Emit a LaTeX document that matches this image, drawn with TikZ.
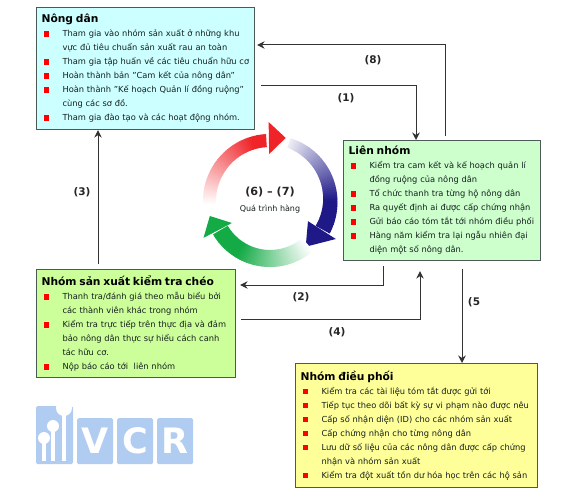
\documentclass[tikz,border=0pt]{standalone}
\usepackage{fontspec}
\setmainfont{DejaVu Sans}
\usepackage{xcolor}
\usepackage{tikz}
\usetikzlibrary{positioning,arrows.meta,calc}
\definecolor{cian}{RGB}{204,255,255}
\definecolor{menta}{RGB}{204,255,204}
\definecolor{lima}{RGB}{204,255,153}
\definecolor{vang}{RGB}{255,255,153}
\definecolor{borde}{RGB}{75,90,85}
\definecolor{texto}{RGB}{20,30,30}
\definecolor{logoazul}{RGB}{176,204,240}
\definecolor{rojo}{RGB}{240,35,40}
\definecolor{azul}{RGB}{30,25,135}
\definecolor{verde}{RGB}{20,170,70}
\newcommand{\muc}[1]{\hangindent=21pt\hangafter=1\noindent
  \makebox[21pt][l]{\hspace{2pt}\textcolor{red}{\rule{5.5pt}{5.5pt}}}#1\par}
\newcommand{\tieude}[1]{{\fontsize{10.7}{16}\selectfont\bfseries\color{black}#1\par}}

\begin{document}
\begin{tikzpicture}[x=1pt,y=-1pt,
  caja/.style={draw=borde, line width=1.1pt, anchor=north west, text=texto,
    font=\fontsize{8.3}{14}\selectfont, align=left, inner xsep=5pt,
    inner ysep=4.5pt},
  rel/.style={-{Stealth[length=7.5pt,width=7.5pt]}, draw=black!80, line width=1pt},
  etiq/.style={font=\fontsize{10.5}{12}\selectfont\bfseries, text=black!85},
  logo/.style={fill=logoazul, rounded corners=1.5pt, text=white,
    font=\fontsize{35}{35}\selectfont\bfseries, inner sep=0pt,
    text height=25pt, text depth=0pt,
    minimum width=36pt, minimum height=46pt}
]
\useasboundingbox (0,0) rectangle (586,500);
% Nong dan
\node[caja, fill=cian, text width=208pt, minimum height=122pt] (nong) at (36,7)
{\tieude{Nông dân}
\muc{Tham gia vào nhóm sản xuất ở những khu\newline vực đủ tiêu chuẩn sản xuất rau an toàn}
\muc{Tham gia tập huấn về các tiêu chuẩn hữu cơ}
\muc{Hoàn thành bản "Cam kết của nông dân"}
\muc{Hoàn thành "Kế hoạch Quản lí đồng ruộng"\newline cùng các sơ đồ.}
\muc{Tham gia đào tạo và các hoạt động nhóm.}};
% Lien nhom
\node[caja, fill=menta, text width=187pt, minimum height=120pt] (lien) at (343,140)
{\tieude{Liên nhóm}
\muc{Kiểm tra cam kết và kế hoạch quản lí\newline đồng ruộng của nông dân}
\muc{Tổ chức thanh tra từng hộ nông dân}
\muc{Ra quyết định ai được cấp chứng nhận}
\muc{Gửi báo cáo tóm tắt tới nhóm điều phối}
\muc{Hàng năm kiểm tra lại ngẫu nhiên đại\newline diện một số nông dân.}};
% Nhom san xuat
\node[caja, fill=lima, text width=189pt, minimum height=108pt] (nhom) at (36,269)
{\tieude{Nhóm sản xuất kiểm tra chéo}
\muc{Thanh tra/đánh giá theo mẫu biểu bởi\newline các thành viên khác trong nhóm}
\muc{Kiểm tra trực tiếp trên thực địa và đảm\newline bảo nông dân thực sự hiểu cách canh\newline tác hữu cơ.}
\muc{Nộp báo cáo tới\ \ liên nhóm}};
% Nhom dieu phoi
\node[caja, fill=vang, text width=232pt, minimum height=124pt] (dieu) at (295,363)
{\tieude{Nhóm điều phối}
\muc{Kiểm tra các tài liệu tóm tắt được gửi tới}
\muc{Tiếp tục theo dõi bất kỳ sự vi phạm nào được nêu}
\muc{Cấp số nhận diện (ID) cho các nhóm sản xuất}
\muc{Cấp chứng nhận cho từng nông dân}
\muc{Lưu dữ số liệu của các nông dân được cấp chứng\newline nhận và nhóm sản xuất}
\muc{Kiểm tra đột xuất tồn dư hóa học trên các hộ sản}};
% Quiebres de las flechas
\coordinate (e8) at (445,45);
\coordinate (e1) at (416,86);
\coordinate (e3) at (98,200);
\coordinate (e2) at (383,285);
\coordinate (e4) at (420,319);
\coordinate (e5) at (462,310);
% Flechas
\draw[rel, shorten <=4pt, shorten >=2pt] (lien.north -| e8) -- (e8) -- (nong.east |- e8);
\draw[rel, shorten <=6pt] (nong.east |- e1) -- (e1) -- (lien.north -| e1);
\draw[rel, shorten <=5pt] (nhom.north -| e3) -- (nong.south -| e3);
\draw[rel, shorten <=5pt, shorten >=4pt] (lien.south -| e2) -- (e2) -- (nhom.east |- e2);
\draw[rel, shorten <=5pt, shorten >=10pt] (nhom.east |- e4) -- (e4) -- (lien.south -| e4);
\draw[rel, shorten <=8pt] (lien.south -| e5) -- (dieu.north -| e5);
% Etiquetas
\node[etiq] (n8) at (373,60) {(8)};
\node[etiq] (n1) at (346,98) {(1)};
\node[etiq] (n3) at (82,192) {(3)};
\node[etiq] (n2) at (301,297) {(2)};
\node[etiq] (n4) at (337,332) {(4)};
\node[etiq] (n5) at (474,302) {(5};
% Circulo de flechas
\begin{scope}[shift={(270,201)},y=1pt]
\foreach \a in {0,2,...,88} {
  \pgfmathsetmacro{\p}{min(100,\a*1.3)}
  \fill[rojo!\p!white] (184-\a:54) arc[start angle=184-\a, end angle=182-\a-0.6, radius=54]
    -- (182-\a-0.6:67) arc[start angle=182-\a-0.6, end angle=184-\a, radius=67] -- cycle;
}
\fill[rojo] (91:79) -- (76:65) -- (91:47) -- cycle;
\foreach \a in {0,2,...,98} {
  \pgfmathsetmacro{\p}{min(100,8+\a*1.3)}
  \pgfmathsetmacro{\ri}{56-(\a/98)*4}
  \pgfmathsetmacro{\ro}{66+(\a/98)*2}
  \fill[azul!\p!white] (72-\a:\ri) arc[start angle=72-\a, end angle=70-\a-0.6, radius=\ri]
    -- (70-\a-0.6:\ro) arc[start angle=70-\a-0.6, end angle=72-\a, radius=\ro] -- cycle;
}
\fill[azul] (-28:43) -- (-30:76) -- (-52:58) -- cycle;
\foreach \a in {0,2,...,98} {
  \pgfmathsetmacro{\p}{min(100,\a*1.4)}
  \fill[verde!\p!white] (-49-\a:49) arc[start angle=-49-\a, end angle=-51-\a-0.6, radius=49]
    -- (-51-\a-0.6:66) arc[start angle=-51-\a-0.6, end angle=-49-\a, radius=66] -- cycle;
}
\fill[verde] (209:76) -- (194:62) -- (210:44) -- cycle;
\end{scope}
\node[font=\fontsize{11.2}{12}\selectfont\bfseries, text=black!85] (ciclo) at (270,192) {(6) -- (7)};
\node[font=\fontsize{8}{10}\selectfont, text=texto] (qua) at (270,209) {Quá trình hàng};
% Logo
\fill[logoazul, rounded corners=1.5pt] (36,406) rectangle (73,464);
\foreach \cx/\cy/\r in {44/438/6, 53/426/6, 64/408/8} {
  \fill[white] (\cx-1.7,\cy) rectangle (\cx+1.7,461);
  \fill[white] (\cx,\cy) circle[radius=\r];
}
\node[logo, anchor=north west] (lv) at (77,418) {V};
\node[logo, anchor=north west] (lc) at (117,418) {C};
\node[logo, anchor=north west] (lr) at (157,418) {R};
\end{tikzpicture}
\end{document}
